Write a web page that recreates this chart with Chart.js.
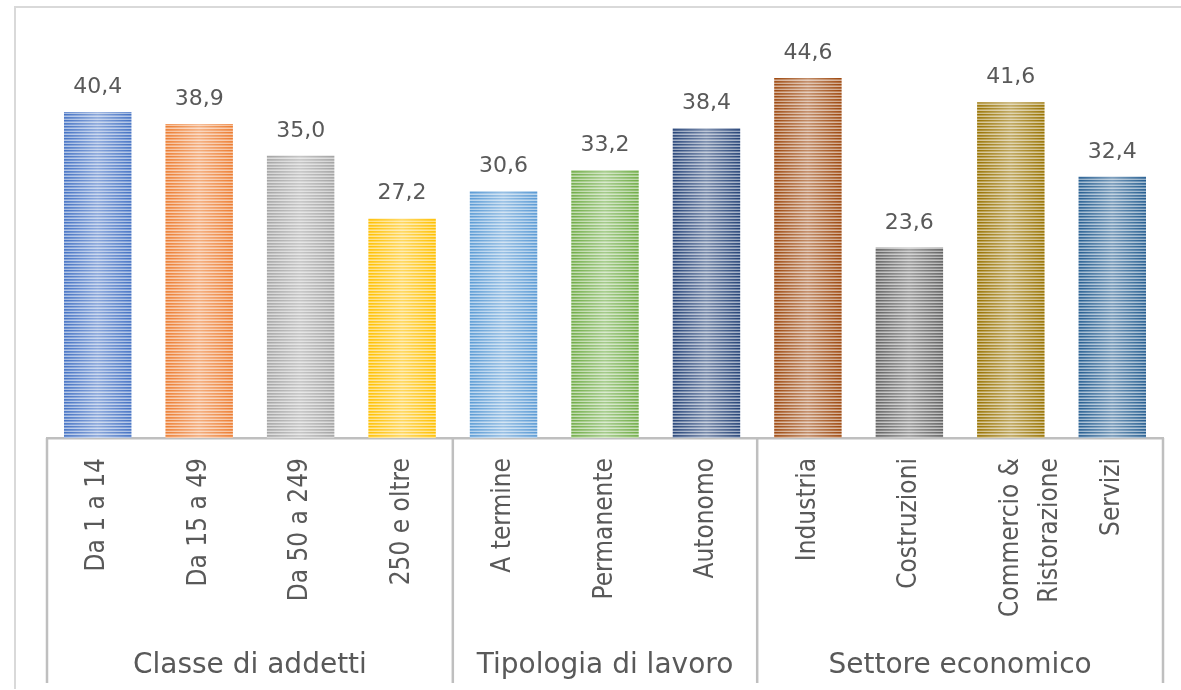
<!DOCTYPE html>
<html>
<head>
<meta charset="utf-8">
<script src="https://cdn.jsdelivr.net/npm/chart.js@4.4.1/dist/chart.umd.min.js"></script>
<style>
  html, body { margin: 0; padding: 0; background: #ffffff; }
  #wrap { position: relative; width: 1181px; height: 690px; }
  canvas { display: block; }
</style>
</head>
<body>
<div id="wrap"><canvas id="chart" width="1181" height="690"></canvas></div>
<script>
// Categories, values and groupings of the chart
const categories = [
  'Da 1 a 14', 'Da 15 a 49', 'Da 50 a 249', '250 e oltre',
  'A termine', 'Permanente', 'Autonomo',
  'Industria', 'Costruzioni', ['Commercio &', 'Ristorazione'], 'Servizi'
];
const values = [40.4, 38.9, 35.0, 27.2, 30.6, 33.2, 38.4, 44.6, 23.6, 41.6, 32.4];
const barColors = [
  '#4472C4', '#ED7D31', '#A5A5A5', '#FFC000',
  '#5B9BD5', '#70AD47', '#264478',
  '#9E480E', '#636363', '#997300', '#255E91'
];
const groupNames = ['Classe di addetti', 'Tipologia di lavoro', 'Settore economico'];
const groupSizes = [4, 3, 4];

const TEXT = '#595959';
const AXIS = '#BFBFBF';
const BAR_PCT = 0.665;

function tint(hex, t) {
  const n = parseInt(hex.slice(1), 16);
  const r = (n >> 16) & 255, g = (n >> 8) & 255, b = n & 255;
  const f = v => Math.round(v + (255 - v) * t);
  return 'rgb(' + f(r) + ',' + f(g) + ',' + f(b) + ')';
}

// Horizontal-stripe fill with a soft light sheen across the bar width
const fillCache = {};
function stripedFill(chart, idx) {
  const xs = chart.scales && chart.scales.x;
  if (!xs || !xs.width) return barColors[idx];
  const step = xs.width / categories.length;
  const w = Math.max(1, Math.round(step * BAR_PCT));
  const left = xs.getPixelForValue(idx) - step * BAR_PCT / 2;
  const key = idx + ':' + w + ':' + left.toFixed(2);
  if (fillCache[key]) return fillCache[key];
  const c = document.createElement('canvas');
  c.width = w; c.height = 6;
  const g = c.getContext('2d');
  const rows = [0.0, 0.3, 0.6, 0.05, 0.2, 0.55];
  rows.forEach((t, i) => { g.fillStyle = tint(barColors[idx], t); g.fillRect(0, i, w, 1); });
  const sheen = g.createLinearGradient(0, 0, w, 0);
  sheen.addColorStop(0, 'rgba(255,255,255,0)');
  sheen.addColorStop(0.5, 'rgba(255,255,255,0.38)');
  sheen.addColorStop(1, 'rgba(255,255,255,0)');
  g.fillStyle = sheen; g.fillRect(0, 0, w, 6);
  const p = chart.ctx.createPattern(c, 'repeat');
  p.setTransform(new DOMMatrix([1, 0, 0, 1, left, 0]));
  fillCache[key] = p;
  return p;
}

// Light frame along the top and left edges
const framePlugin = {
  id: 'frame',
  beforeDraw(chart) {
    const ctx = chart.ctx;
    ctx.save();
    ctx.strokeStyle = '#D9D9D9';
    ctx.lineWidth = 2;
    ctx.beginPath();
    ctx.moveTo(15, 689); ctx.lineTo(15, 7); ctx.lineTo(1181, 7);
    ctx.stroke();
    ctx.restore();
  }
};

// Value labels above each bar, with a decimal comma
const valueLabels = {
  id: 'valueLabels',
  afterDatasetsDraw(chart) {
    const ctx = chart.ctx;
    const meta = chart.getDatasetMeta(0);
    ctx.save();
    ctx.font = '22px "DejaVu Sans"';
    ctx.fillStyle = TEXT;
    ctx.textAlign = 'center';
    ctx.textBaseline = 'alphabetic';
    meta.data.forEach((bar, i) => {
      ctx.fillText(values[i].toFixed(1).replace('.', ','), bar.x, bar.y - 19);
    });
    ctx.restore();
  }
};

// Group separators and group captions under the category labels
const groupAxis = {
  id: 'groupAxis',
  afterDraw(chart) {
    const xs = chart.scales.x;
    const ctx = chart.ctx;
    const step = xs.width / categories.length;
    const top = chart.chartArea.bottom;
    ctx.save();
    ctx.strokeStyle = AXIS;
    ctx.lineWidth = 2.5;
    ctx.font = '28px "DejaVu Sans"';
    ctx.fillStyle = TEXT;
    ctx.textAlign = 'center';
    ctx.textBaseline = 'alphabetic';
    let start = 0;
    const edges = [xs.getPixelForValue(0) - step / 2];
    groupSizes.forEach((n, gi) => {
      const a = xs.getPixelForValue(start) - step / 2;
      const b = xs.getPixelForValue(start + n - 1) + step / 2;
      edges.push(b);
      ctx.fillText(groupNames[gi], (a + b) / 2, 673);
      start += n;
    });
    edges.forEach(x => {
      ctx.beginPath();
      ctx.moveTo(x, top);
      ctx.lineTo(x, 683);
      ctx.stroke();
    });
    ctx.restore();
  }
};

new Chart(document.getElementById('chart'), {
  type: 'bar',
  data: {
    labels: categories,
    datasets: [{
      data: values,
      backgroundColor: ctx => stripedFill(ctx.chart, ctx.dataIndex),
      borderWidth: 0,
      categoryPercentage: 1,
      barPercentage: BAR_PCT
    }]
  },
  options: {
    responsive: false,
    devicePixelRatio: 1,
    animation: false,
    layout: { padding: { top: 34.5, left: 47, right: 18, bottom: 0 } },
    plugins: { legend: { display: false }, tooltip: { enabled: false } },
    scales: {
      y: { display: false, min: 0, max: 50 },
      x: {
        grid: { display: false, drawTicks: false },
        border: { display: true, color: AXIS, width: 2.5 },
        ticks: {
          autoSkip: false,
          minRotation: 90,
          maxRotation: 90,
          padding: 20,
          color: TEXT,
          font: { family: '"DejaVu Sans Condensed", Roboto, sans-serif', size: 26, lineHeight: 1.5 }
        },
        afterFit(scale) { scale.height = 252; }
      }
    }
  },
  plugins: [framePlugin, valueLabels, groupAxis]
});
</script>
</body>
</html>
